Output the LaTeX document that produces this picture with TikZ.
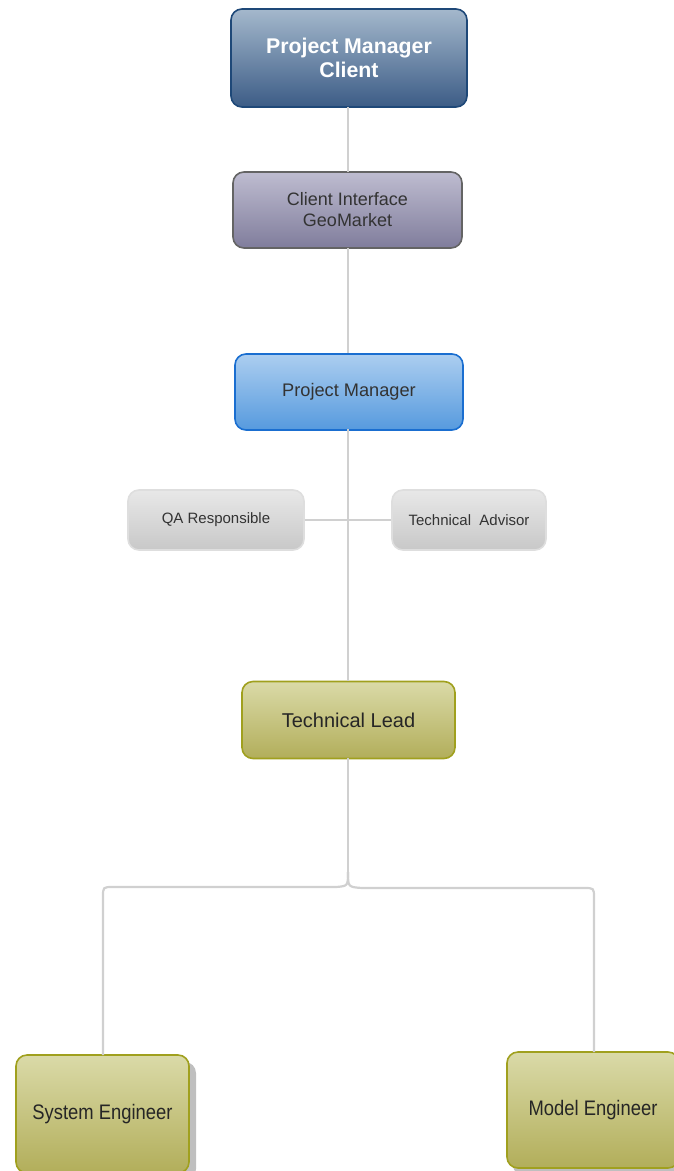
\documentclass[tikz,border=0pt]{standalone}
\usepackage{fontspec}
\setmainfont{Liberation Sans}
\begin{document}
\begin{tikzpicture}[x=1pt,y=-1pt,
  box/.style={rounded corners=11pt, line width=1.6pt, align=center, inner sep=0pt},
  conn/.style={draw={rgb,255:red,208;green,208;blue,208}, line width=2.2pt},
]
\definecolor{pmcTop}{RGB}{164,184,204}
\definecolor{pmcBot}{RGB}{60,92,134}
\definecolor{pmcBd}{RGB}{30,72,120}
\definecolor{ciTop}{RGB}{190,188,208}
\definecolor{ciBot}{RGB}{128,125,156}
\definecolor{ciBd}{RGB}{100,100,100}
\definecolor{pmTop}{RGB}{172,206,240}
\definecolor{pmBot}{RGB}{86,154,222}
\definecolor{pmBd}{RGB}{26,110,208}
\definecolor{grTop}{RGB}{232,232,232}
\definecolor{grBot}{RGB}{200,200,200}
\definecolor{grBd}{RGB}{222,222,222}
\definecolor{olTop}{RGB}{218,218,168}
\definecolor{olBot}{RGB}{178,174,90}
\definecolor{olBd}{RGB}{160,160,30}
\definecolor{txt}{RGB}{51,51,51}
\useasboundingbox (0,0) rectangle (673,1171);

% shadows
\fill[black!25, rounded corners=11pt] (196,1062) rectangle (22,1180);
\fill[black!25, rounded corners=11pt] (680,1059) rectangle (513,1176);

% nodes
\node[box, draw=pmcBd, top color=pmcTop, bottom color=pmcBot, minimum width=236pt, minimum height=98pt,
  text=white, font=\bfseries\fontsize{21.3}{24}\selectfont] (pmc) at (349,58) {Project Manager\\Client};
\node[box, draw=ciBd, top color=ciTop, bottom color=ciBot, minimum width=229pt, minimum height=76pt,
  text=txt, font=\fontsize{18}{21}\selectfont] (ci) at (347.5,210) {Client Interface\\GeoMarket};
\node[box, draw=pmBd, top color=pmTop, bottom color=pmBot, minimum width=228pt, minimum height=76pt,
  text=txt, font=\fontsize{18.2}{22}\selectfont] (pm) at (349,392) {Project Manager};
\node[box, draw=grBd, top color=grTop, bottom color=grBot, minimum width=176pt, minimum height=60pt,
  text=txt, font=\fontsize{15}{17}\selectfont] (qa) at (216,520) {QA Responsible};
\node[box, draw=grBd, top color=grTop, bottom color=grBot, minimum width=154pt, minimum height=60pt,
  text=txt, font=\fontsize{15}{17}\selectfont] (ta) at (469,520) {Technical\ \ Advisor};
\node[box, draw=olBd, top color=olTop, bottom color=olBot, minimum width=213pt, minimum height=77pt,
  text=black!85, font=\fontsize{20}{22}\selectfont] (tl) at (348.5,720) {Technical Lead};
\node[box, draw=olBd, top color=olTop, bottom color=olBot, minimum width=173pt, minimum height=118pt,
  text=black!85, font=\fontsize{20}{22}\selectfont] (se) at (102.5,1114) {\scalebox{0.92}[1.05]{System Engineer}};
\node[box, draw=olBd, top color=olTop, bottom color=olBot, minimum width=172pt, minimum height=116pt,
  text=black!85, font=\fontsize{20}{22}\selectfont] (me) at (593,1110) {\scalebox{0.92}[1.05]{Model Engineer}};

% connectors
\draw[conn] (348,107) -- (348,172);
\draw[conn] (348,248) -- (348,353);
\draw[conn] (348,429) -- (348,681);
\draw[conn] (qa.east) -- (ta.west);
\coordinate (fork) at (348,872);
\draw[conn] (348,758) -- (fork);
\draw[conn] (fork) .. controls (348,886) .. (336,887) -- (113,887) .. controls (103,887) .. (103,897) -- (103,1055);
\draw[conn] (fork) .. controls (348,887) .. (362,888) -- (584,888) .. controls (594,888) .. (594,898) -- (594,1052);
\end{tikzpicture}
\end{document}
